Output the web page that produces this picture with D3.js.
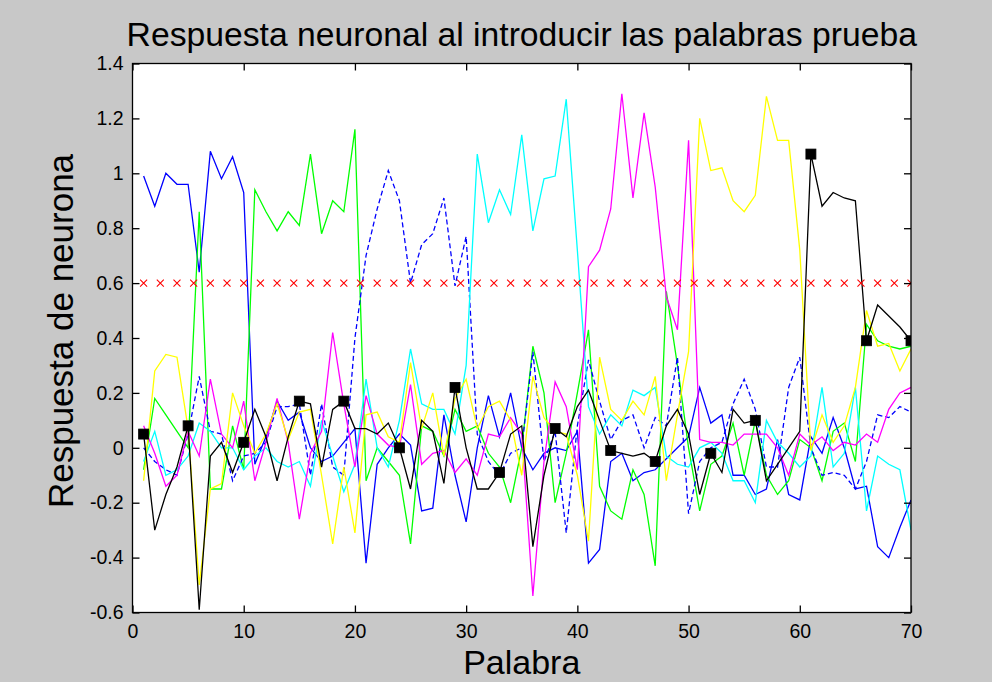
<!DOCTYPE html>
<html><head><meta charset="utf-8">
<script src="https://cdn.jsdelivr.net/npm/d3@7/dist/d3.min.js"></script>
<style>html,body{margin:0;padding:0;background:#c8c8c8;}svg{display:block;}</style>
</head><body>
<script>
// ---- data ----
const words = d3.range(1, 71);
const blue = [0.99,0.88,1.00,0.96,0.96,0.64,1.08,0.98,1.06,0.93,
 -0.06,0.04,0.17,0.10,0.13,0.00,-0.05,-0.03,0.02,0.07,
 -0.42,-0.06,0.00,0.05,0.01,-0.23,-0.22,0.12,-0.10,-0.27,
 0.00,0.19,0.04,0.20,0.00,-0.08,-0.02,0.00,-0.01,0.06,
 -0.42,-0.37,-0.05,-0.02,-0.12,-0.09,-0.08,-0.04,0.00,0.04,
 0.22,0.09,0.12,-0.10,-0.10,-0.17,-0.15,0.03,-0.17,-0.19,
 0.04,-0.02,0.11,0.00,-0.15,-0.14,-0.36,-0.40,-0.29,-0.19];
const green = [-0.08,0.18,0.12,0.06,0.00,0.86,-0.15,-0.15,0.08,-0.08,
 0.94,0.86,0.79,0.86,0.81,1.07,0.78,0.90,0.86,1.16,
 -0.12,0.00,-0.05,-0.10,-0.35,0.08,0.06,-0.03,0.14,0.06,
 0.08,-0.02,-0.07,-0.20,0.00,0.37,0.20,-0.20,-0.02,0.20,
 0.43,-0.14,-0.23,-0.26,-0.08,-0.17,-0.43,0.57,0.30,0.00,
 -0.23,-0.06,-0.03,0.09,-0.10,0.10,-0.10,-0.17,-0.12,0.03,
 0.00,-0.12,0.06,0.09,-0.05,0.45,0.39,0.37,0.36,0.37];
const blueDashed = [0.00,-0.05,-0.08,-0.10,0.05,0.26,0.06,0.05,-0.12,-0.03,
 -0.02,0.02,0.15,0.15,0.16,-0.10,0.16,-0.07,-0.10,0.40,
 0.70,0.87,1.01,0.90,0.60,0.74,0.78,0.91,0.59,0.77,
 0.05,-0.05,-0.10,-0.02,0.00,0.35,-0.05,0.06,-0.31,0.08,
 0.32,0.17,0.03,0.10,0.12,0.00,0.11,0.08,0.33,-0.24,
 -0.05,0.00,0.02,0.16,0.25,0.14,-0.07,-0.07,0.22,0.33,
 0.00,-0.10,-0.09,-0.10,-0.15,-0.05,0.12,0.11,0.15,0.13];
const cyan = [-0.05,0.06,-0.10,-0.08,-0.03,0.09,0.06,0.00,0.00,-0.08,
 -0.03,0.00,-0.05,-0.07,-0.05,-0.14,0.10,-0.03,-0.16,-0.06,
 0.25,0.00,-0.07,0.10,0.36,0.16,0.14,0.14,0.05,0.30,
 1.07,0.82,0.94,0.85,1.14,0.79,0.98,0.99,1.27,0.72,
 0.15,0.05,0.12,0.08,0.21,0.19,0.22,-0.03,-0.06,-0.07,
 0.00,0.02,-0.02,-0.12,-0.12,-0.20,0.10,0.02,-0.02,-0.07,
 -0.03,0.22,-0.07,-0.02,0.22,-0.23,-0.03,-0.06,-0.08,-0.30];
const magenta = [0.08,-0.02,-0.14,-0.10,0.06,-0.03,0.25,0.05,0.00,0.17,
 -0.12,0.02,0.18,0.02,-0.26,-0.02,0.06,0.42,0.16,-0.07,
 0.19,0.05,0.01,0.00,0.23,-0.06,-0.02,-0.01,-0.09,-0.04,
 -0.10,0.05,0.04,0.11,0.05,-0.54,-0.05,0.24,0.15,-0.08,
 0.66,0.72,0.87,1.29,0.91,1.22,0.95,0.55,0.43,1.12,
 0.03,0.02,0.02,0.01,0.05,0.05,0.05,0.00,-0.10,0.05,
 0.01,0.04,-0.01,0.02,0.01,0.05,0.02,0.14,0.20,0.22];
const yellow = [-0.12,0.28,0.34,0.33,0.07,-0.50,-0.15,-0.13,0.20,0.08,
 -0.02,0.05,0.16,0.03,0.13,0.14,-0.10,-0.35,-0.07,-0.31,
 0.12,0.13,0.04,0.02,0.31,0.07,0.20,-0.03,0.18,0.25,
 0.07,0.15,0.17,0.10,-0.10,0.26,0.11,0.06,0.05,-0.10,
 -0.34,0.33,0.14,0.10,0.17,0.12,0.26,-0.12,0.12,0.35,
 1.20,1.01,1.02,0.90,0.86,0.92,1.28,1.12,1.12,0.72,
 -0.01,0.12,0.02,0.08,0.22,0.50,0.37,0.38,0.28,0.36];
const black = [0.05,-0.30,-0.17,-0.07,0.08,-0.59,-0.03,0.02,-0.09,0.02,
 0.14,0.04,-0.12,0.04,0.17,0.16,-0.07,0.14,0.17,0.07,
 0.07,0.05,0.09,0.00,-0.15,0.10,0.06,-0.13,0.22,0.00,
 -0.15,-0.15,-0.09,0.05,0.08,-0.36,-0.10,0.07,0.04,0.15,
 0.21,0.10,-0.01,-0.02,-0.03,-0.02,-0.05,0.08,0.14,0.05,
 -0.17,-0.02,-0.09,0.14,0.09,0.10,-0.12,-0.06,0.00,0.06,
 1.07,0.88,0.93,0.91,0.90,0.39,0.52,0.48,0.44,0.39];
const testIdx = [1,5,10,15,19,24,29,33,38,43,47,52,56,61,66,70];
const threshold = 0.6;
const thresholdX = d3.range(47).map(i => 1 + i * 1.5);
const xTicks = [0,10,20,30,40,50,60,70];
const yTicks = [-0.6,-0.4,-0.2,0,0.2,0.4,0.6,0.8,1,1.2,1.4];
const titleText = "Respuesta neuronal al introducir las palabras prueba";
const xLabel = "Palabra";
const yLabel = "Respuesta de neurona";

const series = [
  {v: blue, color: "#0000ff", dash: null},
  {v: green, color: "#00ff00", dash: null},
  {v: blueDashed, color: "#0000ff", dash: "5,3"},
  {v: cyan, color: "#00ffff", dash: null},
  {v: magenta, color: "#ff00ff", dash: null},
  {v: yellow, color: "#ffff00", dash: null},
  {v: black, color: "#000000", dash: null}
];

// ---- layout ----
const W = 992, H = 682;
const L = 132.5, R = 911, T = 63.5, B = 612.5;
const font = "'Liberation Sans', Arial, Helvetica, sans-serif";

const svg = d3.select("body").append("svg").attr("width", W).attr("height", H);
svg.append("rect").attr("width", W).attr("height", H).attr("fill", "#c8c8c8");

const x = d3.scaleLinear().domain([0, 70]).range([L, R]);
const y = d3.scaleLinear().domain([-0.6, 1.4]).range([B, T]);

svg.append("rect").attr("x", L).attr("y", T).attr("width", R - L).attr("height", B - T).attr("fill", "#fff");

svg.append("clipPath").attr("id", "c").append("rect")
  .attr("x", L).attr("y", T).attr("width", R - L).attr("height", B - T);

const g = svg.append("g").attr("clip-path", "url(#c)");
const line = d3.line().x((d, i) => x(words[i])).y(d => y(d));

series.forEach(s => {
  g.append("path").attr("d", line(s.v)).attr("fill", "none")
    .attr("stroke", s.color).attr("stroke-width", 1.3)
    .attr("stroke-dasharray", s.dash);
});

// threshold x markers
const xs = 3.5;
thresholdX.forEach(t => {
  const cx = x(t), cy = y(threshold);
  g.append("path").attr("d", `M${cx-xs},${cy-xs}L${cx+xs},${cy+xs}M${cx-xs},${cy+xs}L${cx+xs},${cy-xs}`)
    .attr("stroke", "#ff0000").attr("stroke-width", 1.1).attr("fill", "none");
});

// square markers on black series
testIdx.forEach(i => {
  const cx = x(i), cy = y(black[i - 1]);
  g.append("rect").attr("x", cx - 5).attr("y", cy - 5).attr("width", 10).attr("height", 10)
    .attr("fill", "#000").attr("stroke", "#000").attr("stroke-width", 0.8);
});

// axes (ticks inward, box)
const tl = 7;
const axG = svg.append("g");
axG.append("rect").attr("x", L).attr("y", T).attr("width", R - L).attr("height", B - T)
  .attr("fill", "none").attr("stroke", "#000").attr("stroke-width", 1.3);

const xAxisB = d3.axisBottom(x).tickValues(xTicks).tickSize(-tl).tickPadding(12).tickFormat(d3.format("d"));
const xAxisT = d3.axisTop(x).tickValues(xTicks).tickSize(-tl).tickFormat("");
const yAxisL = d3.axisLeft(y).tickValues(yTicks).tickSize(-tl).tickPadding(9).tickFormat(d => String(+d.toFixed(1)));
const yAxisR = d3.axisRight(y).tickValues(yTicks).tickSize(-tl).tickFormat("");

function styleAxis(sel) {
  sel.select(".domain").remove();
  sel.selectAll("line").attr("stroke", "#000").attr("stroke-width", 1.3);
  sel.selectAll("text").attr("font-family", font).attr("font-size", 19.5).attr("fill", "#000");
}
axG.append("g").attr("transform", `translate(0,${B})`).call(xAxisB).call(styleAxis);
axG.append("g").attr("transform", `translate(0,${T})`).call(xAxisT).call(styleAxis);
axG.append("g").attr("transform", `translate(${L},0)`).call(yAxisL).call(styleAxis);
axG.append("g").attr("transform", `translate(${R},0)`).call(yAxisR).call(styleAxis);

// texts
svg.append("text").attr("x", (L + R) / 2).attr("y", 46).attr("text-anchor", "middle")
  .attr("font-family", font).attr("font-size", 33.7).attr("fill", "#000").text(titleText);
svg.append("text").attr("x", (L + R) / 2).attr("y", 674).attr("text-anchor", "middle")
  .attr("font-family", font).attr("font-size", 34).attr("fill", "#000").text(xLabel);
svg.append("text").attr("transform", `translate(73,331) rotate(-90)`).attr("text-anchor", "middle")
  .attr("font-family", font).attr("font-size", 35).attr("fill", "#000").text(yLabel);
</script>
</body></html>
